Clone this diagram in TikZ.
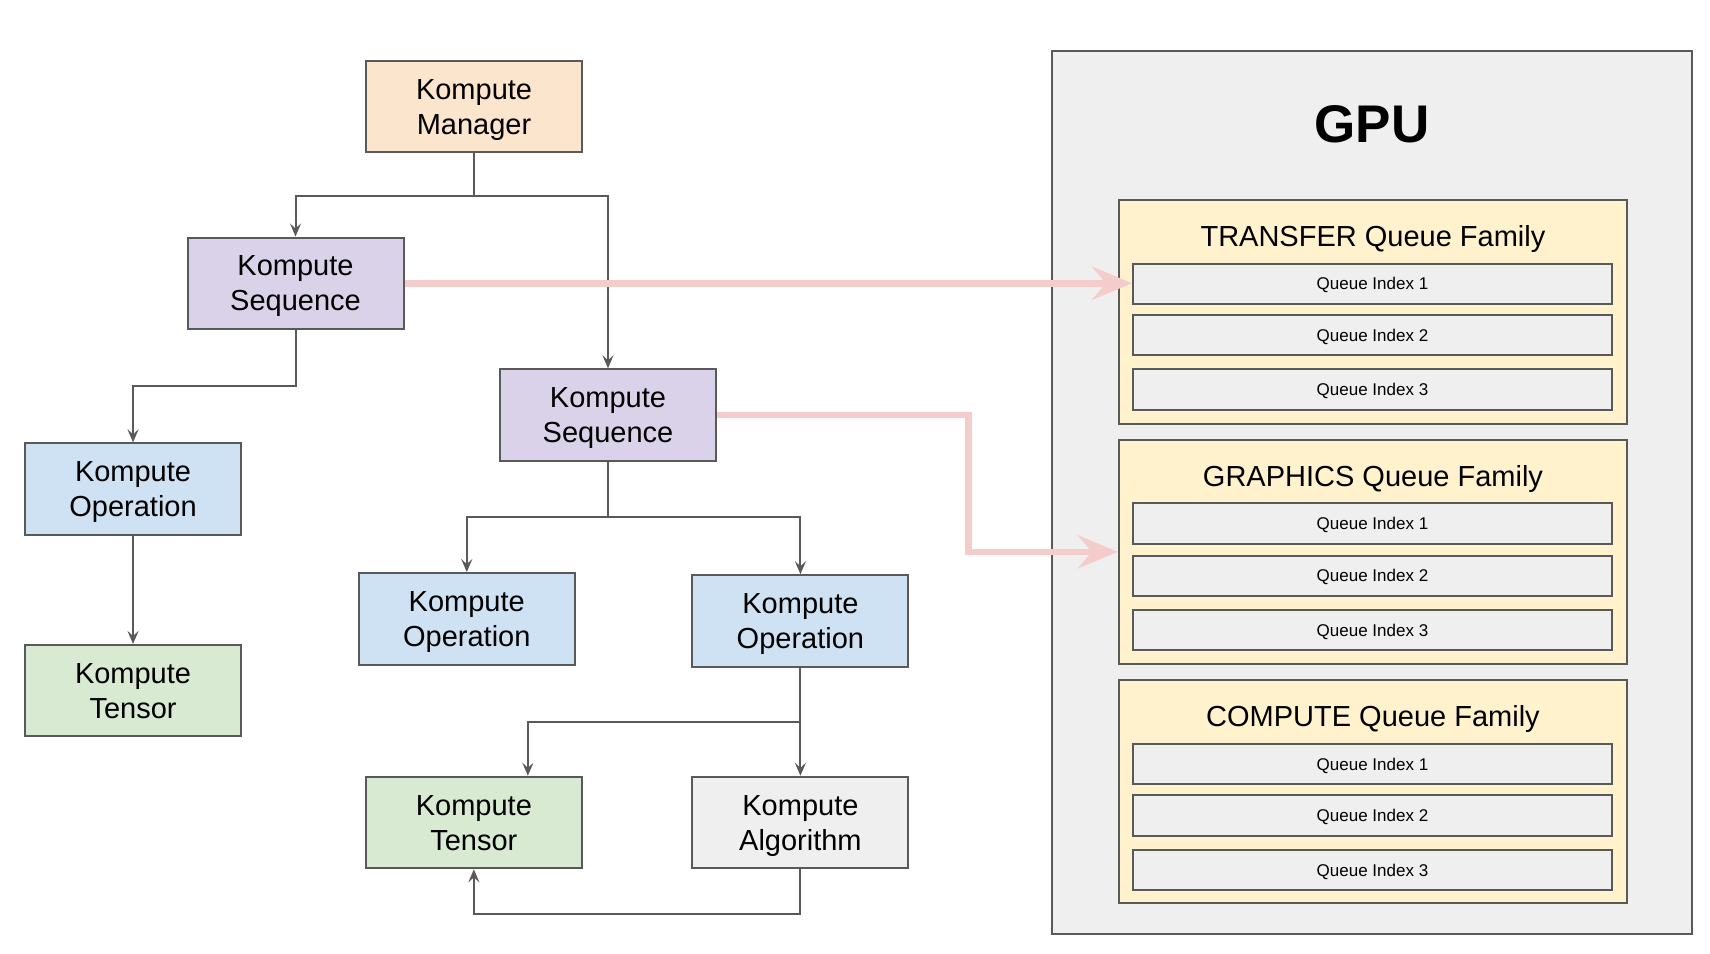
\documentclass[tikz,border=0pt]{standalone}
\usepackage{fontspec}
\setmainfont{Liberation Sans}
\usetikzlibrary{arrows.meta}
\definecolor{edgec}{HTML}{595959}
\definecolor{mgrfill}{HTML}{FCE5CD}
\definecolor{seqfill}{HTML}{D9D2E9}
\definecolor{opfill}{HTML}{CFE2F3}
\definecolor{tenfill}{HTML}{D9EAD3}
\definecolor{grayfill}{HTML}{EFEFEF}
\definecolor{famfill}{HTML}{FFF2CC}
\definecolor{hotc}{HTML}{F4CCCC}
\begin{document}
\begin{tikzpicture}[x=0.998pt,y=-0.997pt,
  box/.style={draw=edgec, line width=2pt, minimum width=216pt, minimum height=91.5pt,
    inner sep=0pt, align=center, text depth=0pt, font=\fontsize{29}{35}\selectfont},
  conn/.style={draw=edgec, line width=2pt, -{Stealth[length=13pt,width=11pt,inset=5pt]}},
  hot/.style={draw=hotc, line width=6.5pt, -{Stealth[length=40pt,width=33pt,inset=14pt]}},
  fam/.style={draw=edgec, line width=2pt, fill=famfill, minimum width=508pt, minimum height=223.5pt, inner sep=0pt},
  famtitle/.style={inner sep=0pt, text depth=0pt, font=\fontsize{29}{35}\selectfont},
  queue/.style={draw=edgec, line width=2pt, fill=grayfill, minimum width=478.7pt, minimum height=40.3pt,
    inner sep=0pt, text depth=0pt, font=\fontsize{17}{20}\selectfont}]
\useasboundingbox (0,0) rectangle (1713.4,955.9);

% GPU panel
\node[draw=edgec, line width=2pt, fill=grayfill, minimum width=640pt, minimum height=882.5pt, inner sep=0pt]
  (gpubox) at (1375.2,494) {};
\node[inner sep=0pt, font=\bfseries\fontsize{53}{60}\selectfont] (gpu) at (1374.6,124.6) {GPU};

\node[fam] (tfam) at (1375.7,313) {};
\node[fam] (gfam) at (1375.7,553.5) {};
\node[fam] (cfam) at (1375.7,793.9) {};
\node[famtitle] (tt) at (1375.7,237.1) {TRANSFER Queue Family};
\node[famtitle] (gt) at (1375.7,477.5) {GRAPHICS Queue Family};
\node[famtitle] (ct) at (1375.7,717.9) {COMPUTE Queue Family};

\node[queue] (tq1) at (1375.2,284.6) {Queue Index 1};
\node[queue] (tq2) at (1375.2,336) {Queue Index 2};
\node[queue] (tq3) at (1375.2,390.6) {Queue Index 3};
\node[queue] (gq1) at (1375.2,525) {Queue Index 1};
\node[queue] (gq2) at (1375.2,577.5) {Queue Index 2};
\node[queue] (gq3) at (1375.2,632.1) {Queue Index 3};
\node[queue] (cq1) at (1375.2,766.5) {Queue Index 1};
\node[queue] (cq2) at (1375.2,817.9) {Queue Index 2};
\node[queue] (cq3) at (1375.2,872.5) {Queue Index 3};

% left boxes
\node[box, fill=mgrfill] (man) at (475,107) {Kompute\\Manager};
\node[box, fill=seqfill] (seq1) at (296.1,284.1) {Kompute\\Sequence};
\node[box, fill=seqfill] (seq2) at (609.2,416.3) {Kompute\\Sequence};
\node[box, fill=opfill] (op1) at (133.3,490.6) {Kompute\\Operation};
\node[box, fill=tenfill] (ten1) at (133.3,692.8) {Kompute\\Tensor};
\node[box, fill=opfill] (op2) at (467.7,620.7) {Kompute\\Operation};
\node[box, fill=opfill] (op3) at (802,622.8) {Kompute\\Operation};
\node[box, fill=tenfill] (ten2) at (474.8,825) {Kompute\\Tensor};
\node[box, fill=grayfill] (alg) at (802,825) {Kompute\\Algorithm};

% connectors
\coordinate (j1) at (475,196.7);
\draw[conn] (man.south) -- (j1) -| (seq1.north);
\draw[conn] (j1) -| (seq2.north);
\coordinate (j2) at (296.1,386.8);
\draw[conn] (seq1.south) -- (j2) -| (op1.north);
\draw[conn] (op1.south) -- (ten1.north);
\coordinate (j3) at (609.2,519);
\draw[conn] (seq2.south) -- (j3) -| (op2.north);
\draw[conn] (j3) -| (op3.north);
\coordinate (j4) at (802,724.5);
\coordinate (t2in) at ([xshift=54pt]ten2.north);
\draw[conn] (op3.south) -- (j4) -| (t2in);
\draw[conn] (j4) -- (alg.north);
\coordinate (j5) at (802,916.8);
\draw[conn] (alg.south) -- (j5) -| (ten2.south);

% red arrows
\draw[hot] (seq1.east) -- (seq1.east -| tq1.west);
\coordinate (r2) at (970.3,416.3);
\draw[hot] (seq2.east) -- (r2) |- (gfam.west);
\end{tikzpicture}
\end{document}
